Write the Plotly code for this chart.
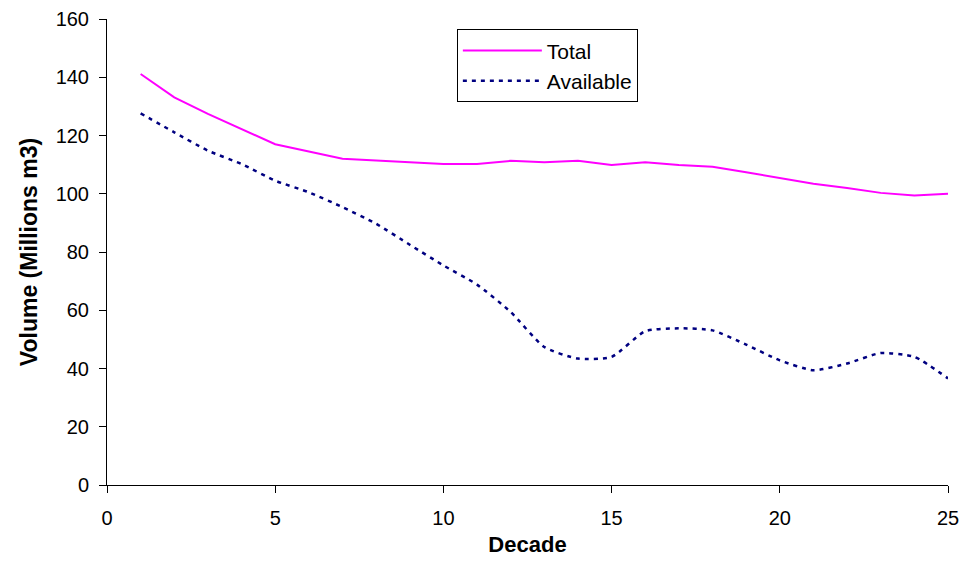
import plotly.graph_objects as go

decades = list(range(1, 26))
total = [141.1, 133.1, 127.4, 122.2, 117.0, 114.5, 112.0, 111.4, 110.8, 110.2,
         110.2, 111.3, 110.8, 111.3, 109.9, 110.8, 109.9, 109.3, 107.4, 105.3,
         103.4, 102.0, 100.3, 99.4, 100.0]
available = [127.6, 121.1, 114.8, 110.2, 104.5, 100.5, 95.4, 89.7, 82.5, 75.4,
             68.8, 59.4, 47.4, 43.4, 44.0, 52.8, 53.8, 53.1, 48.2, 42.8,
             39.4, 41.7, 45.3, 44.0, 36.6]

font_family = "Liberation Sans, Arial, sans-serif"

fig = go.Figure()
fig.add_trace(go.Scatter(x=decades, y=total, mode="lines", name="Total",
                         line=dict(color="#FF00FF", width=2)))
fig.add_trace(go.Scatter(x=decades, y=available, mode="lines", name="Available",
                         line=dict(color="#000080", width=2.5, dash="4px,5px",
                                   shape="spline", smoothing=0.6)))

fig.update_layout(
    width=966, height=562,
    margin=dict(l=107, r=18, t=19, b=77),
    paper_bgcolor="white", plot_bgcolor="white",
    font=dict(family=font_family, size=20, color="black"),
    showlegend=True,
    legend=dict(x=0.416, y=0.978, xanchor="left", yanchor="top",
                bordercolor="black", borderwidth=1, bgcolor="white",
                font=dict(size=21), itemwidth=79, tracegroupgap=0),
    xaxis=dict(range=[0, 25], dtick=5, tick0=0, showline=True, linecolor="black",
               linewidth=1, ticks="outside", ticklen=7, tickcolor="black",
               tickfont=dict(size=20), ticklabelstandoff=8,
               showgrid=False, zeroline=False, automargin=False,
               title=dict(text="<b>Decade</b>", font=dict(size=22), standoff=8)),
    yaxis=dict(range=[0, 160], dtick=20, tick0=0, showline=True, linecolor="black",
               linewidth=1, ticks="outside", ticklen=7, tickcolor="black",
               tickfont=dict(size=20), ticklabelstandoff=6,
               showgrid=False, zeroline=False, automargin=False,
               title=dict(text="<b>Volume (Millions m3)</b>", font=dict(size=23), standoff=11)),
)

fig.write_html("out.html")
